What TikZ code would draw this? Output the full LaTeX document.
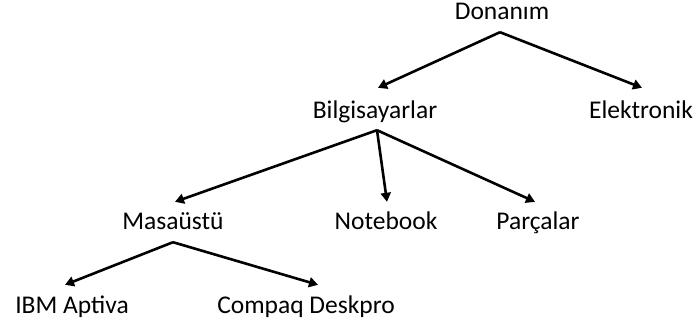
\documentclass[tikz,border=0pt]{standalone}
\usepackage{fontspec}
\setmainfont{Carlito}
\usetikzlibrary{arrows.meta}
\begin{document}
\begin{tikzpicture}[x=1pt,y=-1pt,
  lbl/.style={font=\fontsize{25.5}{30}\selectfont, inner sep=0pt, text height=14pt, text depth=0pt, anchor=base},
  arr/.style={line width=2.6pt, -{Triangle[length=9pt,width=10pt]}}]
\useasboundingbox (0,0) rectangle (698,325);
\node[lbl] (don) at (502,19) {Donanım};
\node[lbl] (bil) at (375,118) {Bilgisayarlar};
\node[lbl] (ele) at (641,118) {Elektronik};
\node[lbl] (mas) at (173,229) {Masaüstü};
\node[lbl] (not) at (386,229) {Notebook};
\node[lbl] (par) at (538,229) {Parçalar};
\node[lbl] (ibm) at (72,313) {IBM Aptiva};
\node[lbl] (cpq) at (306,313) {Compaq Deskpro};
\draw[arr] ([xshift=-2pt,yshift=-13pt]don.south) -- ([xshift=3pt,yshift=16pt]bil.north);
\draw[arr] ([xshift=-2pt,yshift=-13pt]don.south) -- ([xshift=1pt,yshift=16pt]ele.north);
\draw[arr] ([xshift=2pt,yshift=-12pt]bil.south) -- ([xshift=2pt,yshift=13pt]mas.north);
\draw[arr] ([xshift=2pt,yshift=-12pt]bil.south) -- ([xshift=1pt,yshift=13pt]not.north);
\draw[arr] ([xshift=2pt,yshift=-12pt]bil.south) -- ([xshift=-3pt,yshift=13pt]par.north);
\draw[arr] ([yshift=-13pt]mas.south) -- ([xshift=-7pt,yshift=14pt]ibm.north);
\draw[arr] ([yshift=-13pt]mas.south) -- ([xshift=12pt,yshift=14pt]cpq.north);
\end{tikzpicture}
\end{document}
